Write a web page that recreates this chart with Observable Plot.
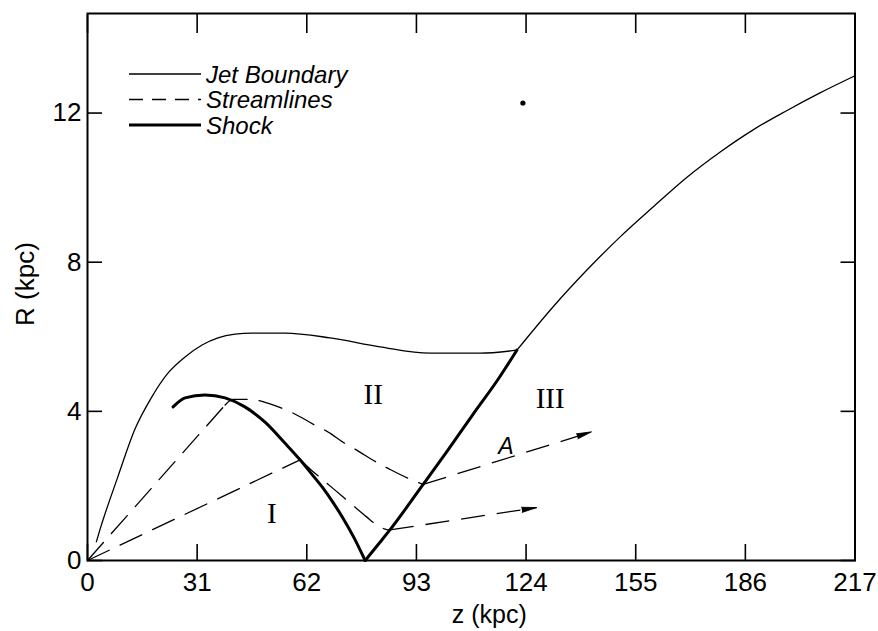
<!DOCTYPE html>
<html><head><meta charset="utf-8">
<script src="https://cdn.jsdelivr.net/npm/d3@7"></script>
<script src="https://cdn.jsdelivr.net/npm/@observablehq/plot@0.6"></script>
<style>
body{margin:0;background:#fff;}
#chart{position:relative;width:878px;height:631px;}
#legend{position:absolute;left:0;top:0;pointer-events:none;}
</style></head><body><div id="chart"></div>
<script>
// ---- data (z in kpc, R in kpc) ----
const xTicks = [0, 31, 62, 93, 124, 155, 186, 217];
const yTicks = [0, 4, 8, 12];

const jetLeftZ = [2.5, 3.5, 8.6, 13.4, 18.2, 22.8, 27.6, 32.4, 36.9, 41.7, 46.5, 55.8, 68.6, 82.7, 96.8, 111, 121.4];
const jetLeftR = [0.5, 0.82, 2.25, 3.52, 4.39, 5.03, 5.46, 5.78, 5.97, 6.07, 6.10, 6.10, 5.97, 5.73, 5.56, 5.56, 5.64];
const jetRightZ = [121.4, 131.6, 141.2, 150.6, 159.9, 169.5, 178.8, 188.2, 197.8, 207.1, 217];
const jetRightR = [5.64, 6.80, 7.79, 8.68, 9.48, 10.28, 10.95, 11.55, 12.07, 12.54, 13.0];

const shockLeftZ = [24.2, 27.6, 33.2, 38.9, 44.5, 50.2, 55.8, 60.1, 63.3, 66.6, 69.4, 72.2, 75.3, 78.5];
const shockLeftR = [4.12, 4.36, 4.44, 4.36, 4.12, 3.71, 3.15, 2.70, 2.33, 1.94, 1.56, 1.14, 0.62, 0];
const shockRightZ = [78.5, 82.7, 85.5, 94.9, 101.6, 109, 116.1, 121.4];
const shockRightR = [0, 0.49, 0.82, 2.04, 2.92, 3.92, 4.86, 5.64];

const upperInZ = [0, 38.9];
const upperInR = [0, 4.17];
const upperCurveZ = [38.9, 41.2, 45.9, 50.7, 54.5, 58.2, 64.3, 67.6, 72.8, 76.1, 81.8, 85, 91.7, 94.9];
const upperCurveR = [4.17, 4.32, 4.32, 4.23, 4.1, 3.95, 3.63, 3.47, 3.14, 2.96, 2.63, 2.47, 2.16, 2.04];

const lowerInZ = [0, 60.1];
const lowerInR = [0, 2.70];
const lowerCurveZ = [60.1, 63, 67.2, 72.2, 76, 78.9, 81.8, 84.6, 85.5];
const lowerCurveR = [2.70, 2.45, 2.11, 1.71, 1.40, 1.17, 0.95, 0.83, 0.82];

const arrowFromZ = [94.9, 85.5];
const arrowFromR = [2.04, 0.82];
const arrowToZ = [142.5, 127];
const arrowToR = [3.45, 1.42];

const regionLabels = ["I", "II", "III"];
const regionZ = [52.1, 80.8, 130.8];
const regionR = [1.26, 4.44, 4.35];

const streamLabel = ["A"];
const streamLabelZ = [118.3];
const streamLabelR = [3.05];

const dotZ = [123.1];
const dotR = [12.27];

const legendLabels = ["Jet Boundary", "Streamlines", "Shock"];
const xTitle = "z (kpc)";
const yTitle = "R (kpc)";

// ---- layout ----
const W = 878, H = 631, mL = 87, mR = 23.5, mT = 13, mB = 71;
const xDomain = [0, 217], yDomain = [0, 14.67];
const kx = (W - mL - mR) / (xDomain[1] - xDomain[0]);
const ky = (H - mT - mB) / (yDomain[1] - yDomain[0]);

const idx = a => a.map((_, i) => i);
const thin = {stroke: "black", strokeWidth: 1.3};
const dash = {stroke: "black", strokeWidth: 1.3, strokeDasharray: "24,12"};
const shock = {stroke: "black", strokeWidth: 3, strokeLinecap: "round"};
function path(zs, rs, o) {
  return Plot.line(idx(zs), {x: i => zs[i], y: i => rs[i], curve: "monotone-x", ...o});
}
const headAngle = i => Math.atan2((arrowToZ[i] - arrowFromZ[i]) * kx, (arrowToR[i] - arrowFromR[i]) * ky) * 180 / Math.PI;

const chart = Plot.plot({
  width: W, height: H,
  marginLeft: mL, marginRight: mR, marginTop: mT, marginBottom: mB,
  x: {domain: xDomain},
  y: {domain: yDomain},
  style: {fontFamily: "Liberation Sans, Arial, sans-serif", fontSize: "26px", color: "black", background: "white", overflow: "visible"},
  marks: [
    Plot.frame({stroke: "black", strokeWidth: 2}),
    path(jetLeftZ, jetLeftR, thin),
    path(jetRightZ, jetRightR, thin),
    path(shockLeftZ, shockLeftR, shock),
    path(shockRightZ, shockRightR, shock),
    path(upperInZ, upperInR, dash),
    path(upperCurveZ, upperCurveR, dash),
    path(lowerInZ, lowerInR, dash),
    path(lowerCurveZ, lowerCurveR, dash),
    Plot.link(idx(arrowFromZ), {x1: i => arrowFromZ[i], y1: i => arrowFromR[i], x2: i => arrowToZ[i], y2: i => arrowToR[i], ...dash}),
    Plot.vector(idx(arrowToZ), {x: i => arrowToZ[i], y: i => arrowToR[i], rotate: headAngle, length: 15, r: 2.6, shape: "spike", anchor: "end", fill: "black", stroke: "black", strokeWidth: 0.8}),
    Plot.dot(idx(dotZ), {x: i => dotZ[i], y: i => dotR[i], r: 2.6, fill: "black"}),
    Plot.text(idx(regionLabels), {x: i => regionZ[i], y: i => regionR[i], text: i => regionLabels[i], fontFamily: "Liberation Serif, serif", fontSize: 29}),
    Plot.text(idx(streamLabel), {x: i => streamLabelZ[i], y: i => streamLabelR[i], text: i => streamLabel[i], fontStyle: "italic", fontSize: 23}),
    Plot.axisX({ticks: xTicks, anchor: "bottom", tickSize: -16, tickPadding: 28.5, strokeWidth: 1.6, label: null, tickFormat: d => String(d)}),
    Plot.axisX({ticks: xTicks, anchor: "top", tickSize: -19, strokeWidth: 1.6, label: null, tickFormat: () => ""}),
    Plot.axisY({ticks: yTicks, anchor: "left", tickSize: -15, tickPadding: 21, strokeWidth: 1.6, label: null, tickFormat: d => String(d)}),
    Plot.axisY({ticks: yTicks, anchor: "right", tickSize: -15, strokeWidth: 1.6, label: null, tickFormat: () => ""}),
    Plot.text([xTitle], {frameAnchor: "bottom", text: d => d, lineAnchor: "middle", dx: 18, dy: 54, fontSize: 25}),
    Plot.text([yTitle], {frameAnchor: "left", text: d => d, textAnchor: "middle", lineAnchor: "middle", rotate: -90, dx: -62, dy: -3, fontSize: 26})
  ]
});
document.getElementById("chart").appendChild(chart);

// ---- legend (inside the plot frame, top-left) ----
const legendDash = [null, "14,9", null];
const legendWidth = [1.3, 1.3, 3];
const lg = d3.select("#chart").append("svg").attr("id", "legend").attr("width", W).attr("height", 160);
const rowY = [74, 99.5, 125];
legendLabels.forEach((lab, i) => {
  lg.append("line").attr("x1", 129).attr("x2", 201).attr("y1", rowY[i]).attr("y2", rowY[i])
    .attr("stroke", "black").attr("stroke-width", legendWidth[i]).attr("stroke-dasharray", legendDash[i]);
  lg.append("text").attr("x", 206).attr("y", rowY[i]).attr("dominant-baseline", "central")
    .attr("font-family", "Liberation Sans, Arial, sans-serif").attr("font-style", "italic").attr("font-size", 24)
    .text(lab);
});
</script>
</body></html>
